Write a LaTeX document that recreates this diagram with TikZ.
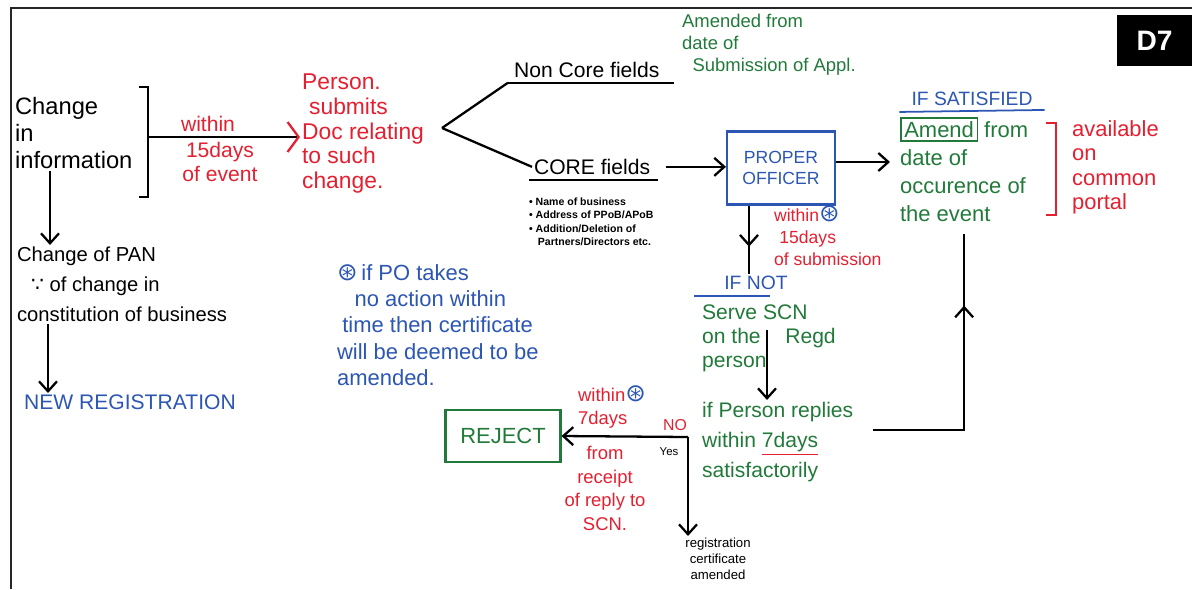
\documentclass[tikz,border=0pt]{standalone}
\usepackage{fontspec}
\setmainfont{Liberation Sans}
\newfontfamily\symfont{DejaVu Sans}
\usetikzlibrary{arrows.meta, positioning, calc, decorations.markings}
\definecolor{hred}{RGB}{228,32,48}
\definecolor{hgreen}{RGB}{34,122,58}
\definecolor{hblue}{RGB}{44,86,180}
\newcommand{\fs}[2]{\fontsize{#1}{#2}\selectfont}
\newcommand{\circast}{{\symfont\fontsize{14}{14}\selectfont\color{hblue}⊛}}
\setlength{\fboxsep}{1.5pt}
\setlength{\fboxrule}{0.9pt}

\begin{document}
\begin{tikzpicture}[
    x=0.02cm, y=-0.02cm,
    every node/.style={inner sep=1pt, align=left},
    redtxt/.style={text=hred},
    grntxt/.style={text=hgreen},
    blutxt/.style={text=hblue},
    arr/.style={-{Straight Barb[length=2mm,width=3.6mm]}, line width=1.3pt},
    midarrow/.style={line width=1.3pt, postaction={decorate}, decoration={markings, mark=at position #1 with {\arrow{Straight Barb[length=2mm,width=3.6mm]}}}},
    boxed/.style={draw, line width=1.2pt, align=center}
]
\useasboundingbox (0,0) rectangle (1192,589);
\draw[line width=1.1pt, black!85] (11,589) -- (11,8) -- (1192,8);
\node (badge) [fill=black, text=white, font=\fs{16}{18}\bfseries, minimum width=1.5cm, minimum height=1.02cm, inner sep=0, align=center] at (1154.5,40.5) {D7};

\node (chg) [anchor=north west, font=\fs{13.5}{15.5}] at (13,95) {Change\\in\\information};
\draw[line width=1.3pt] (139,87) -- (148,87) -- (148,197) -- (139,197);
\coordinate (brk) at (148,137);
\node (per) [redtxt, anchor=north west, font=\fs{13}{14}] at (300,72) {Person.\\\hspace*{4pt}submits\\Doc relating\\to such\\change.};
\draw[line width=1.3pt, -{Straight Barb[length=2.2mm,width=6mm,color=hred]}] (brk) -- (per.west |- brk);
\node (wa) [redtxt, font=\fs{12}{14}] at (208,124) {within};
\node (wb) [redtxt, anchor=north, align=center, font=\fs{12}{14}] at (220,140) {15days\\of event};

\coordinate (fork) at (442,128);
\node (ncf) [anchor=north west, font=\fs{12}{14}] at (512,60) {Non Core fields};
\draw[line width=1.1pt] ($(ncf.south west)+(-4,3)$) -- ($(ncf.south east)+(12,3)$);
\draw[line width=1.3pt] (fork) -- ($(ncf.south west)+(-4,3)$);
\node (amd) [grntxt, anchor=north west, font=\fs{10.5}{12.5}] at (680,12) {Amended from\\date of\\\hspace*{6pt}Submission of Appl.};

\node (core) [anchor=north west, font=\fs{12}{14}] at (532,157) {CORE fields};
\draw[line width=1.1pt] ($(core.south west)+(-3,3)$) -- ($(core.south east)+(6,3)$);
\draw[line width=1.3pt] (fork) -- (core.west);
\node (lst) [anchor=north west, font=\fs{6}{7.5}\bfseries] at (527,196) {• Name of business\\• Address of PPoB/APoB\\• Addition/Deletion of\\\hspace*{5pt}Partners/Directors etc.};

\node (po) [boxed, draw=hblue, text=hblue, font=\fs{10}{12}, minimum width=2.16cm, minimum height=1.46cm] at (781,168) {PROPER\\OFFICER};
\draw[arr] ([xshift=8pt]core.east) -- (po.west |- core.east);

\node (sat) [blutxt, font=\fs{11}{13}] at (972,99) {IF SATISFIED};
\draw[hblue, line width=1pt] ($(sat.south west)+(-10,4)$) -- ($(sat.south east)+(10,2)$);
\node (amend) [grntxt, anchor=north west, font=\fs{12.5}{16}] at (898,115) {\fbox{Amend} from\\date of\\occurence of\\the event};
\draw[arr] ($(po.east)+(0,-6)$) -- ($(po.east -| amend.west)+(-8,-6)$);
\draw[hred, line width=1.3pt] (1046,123) -- (1056,123) -- (1056,215) -- (1046,215);
\node (portal) [redtxt, anchor=north west, font=\fs{12.5}{14}] at (1070,118) {available\\on\\common\\portal};

\node (w15s) [redtxt, anchor=north west, font=\fs{10}{12.5}] at (772,204) {within\circast\\\hspace*{3pt}15days\\of submission};
\node (ifnot) [blutxt, font=\fs{11}{13}] at (756,283) {IF NOT};
\draw[hblue, line width=1pt] ($(ifnot.south west)+(-28,4)$) -- ($(ifnot.south east)+(-20,4)$);
\draw[midarrow=0.6] ($(po.south)+(-32,0)$) -- ($(ifnot.north)+(-7,0)$);

\node (serve) [grntxt, anchor=north west, font=\fs{12}{13.5}] at (700,303) {Serve SCN\\on the\hspace{14pt}Regd\\person};
\coordinate (scn) at (767,330);
\node (reply) [grntxt, anchor=north west, font=\fs{12}{17}] at (700,400) {if Person replies\\within {\color{hred}\underline{\textcolor{hgreen}{7days}}}\\satisfactorily};
\draw[arr] (scn) -- (scn |- reply.north);
\draw[midarrow=0.75] ($(reply.north east)+(18,30)$) -| ($(amend.south)+(0,10)$);

\node (note) [blutxt, anchor=north west, font=\fs{12.5}{15}] at (335,262) {\circast\,if PO takes\\\hspace*{10pt}no action within\\\hspace*{3pt}time then certificate\\will be deemed to be\\amended.};

\node (rej) [boxed, draw=hgreen, text=hgreen, font=\fs{12.5}{15}, minimum width=2.3cm, minimum height=1.04cm] at (503,436) {REJECT};
\coordinate (jn) at (688,437);
\draw[arr] (jn) -- (rej.east);
\node (regc) [anchor=north, align=center, font=\fs{7.5}{9}] at (718,536) {registration\\certificate\\amended};
\draw[arr] (jn) -- (jn |- regc.north);
\node (no) [redtxt, font=\fs{9}{10}] at (675,425) {NO};
\node (yes) [font=\fs{6.5}{8}] at (669,452) {Yes};
\node (w7) [redtxt, anchor=north west, font=\fs{10.5}{13}] at (576,384) {within\circast\\7days};
\node (frm) [redtxt, anchor=north, align=center, font=\fs{10.5}{13.5}] at (605,444) {from\\receipt\\of reply to\\SCN.};

\node (pan) [anchor=north west, font=\fs{11.5}{17}] at (15,245) {Change of PAN\\\hspace*{8pt}{\symfont ∵} of change in\\constitution of business};
\draw[arr] ($(chg.south west)+(37,0)$) -- ($(pan.north west)+(35,0)$);
\node (newreg) [blutxt, anchor=north west, font=\fs{12}{14}] at (22,393) {NEW REGISTRATION};
\draw[arr] ($(pan.south west)+(33,0)$) -- ($(newreg.north west)+(26,0)$);
\end{tikzpicture}
\end{document}
